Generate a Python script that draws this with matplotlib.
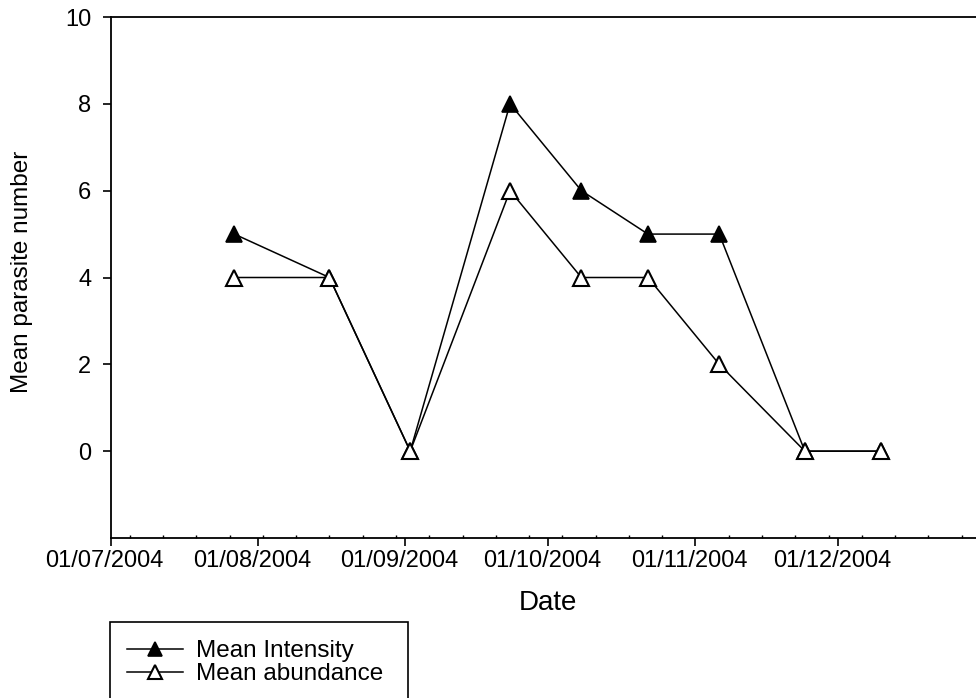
import matplotlib
matplotlib.use("Agg")
import matplotlib.pyplot as plt
import matplotlib.dates as mdates
import matplotlib.transforms as mtransforms
from matplotlib.patches import Rectangle
import numpy as np
import datetime as dt

plt.rcParams['font.family'] = ['Liberation Sans', 'DejaVu Sans']

# sampling dates and values
dates = ['2004-07-27', '2004-08-16', '2004-09-02', '2004-09-23', '2004-10-08',
         '2004-10-22', '2004-11-06', '2004-11-24', '2004-12-10']
mean_intensity = [5, 4, 0, 8, 6, 5, 5, 0, 0]
mean_abundance = [4, 4, 0, 6, 4, 4, 2, 0, 0]
series_labels = ['Mean Intensity', 'Mean abundance']
y_ticks = [0, 2, 4, 6, 8, 10]

x = [dt.datetime.strptime(d, '%Y-%m-%d') for d in dates]

fig = plt.figure(figsize=(9.76, 6.98), dpi=100)
ax = fig.add_axes([110.7 / 976, 160 / 698, 1 - 110.7 / 976, 521 / 698])

l1, = ax.plot(x, mean_intensity, color='black', lw=1.1, marker='^', ms=11,
              mfc='black', mec='black', mew=1.2, label=series_labels[0], zorder=3)
l2, = ax.plot(x, mean_abundance, color='black', lw=1.1, marker='^', ms=11,
              mfc='white', mec='black', mew=1.5, label=series_labels[1], zorder=4)

ax.set_xlim(dt.datetime(2004, 7, 1), dt.datetime(2004, 12, 30))
ax.set_ylim(-2, 10)
ax.set_yticks(y_ticks)

ax.xaxis.set_major_locator(mdates.MonthLocator())
ax.xaxis.set_major_formatter(mdates.DateFormatter('%d/%m/%Y'))
ax.xaxis.set_minor_locator(mdates.WeekdayLocator(byweekday=mdates.MO))

ax.spines['right'].set_visible(False)
for s in ['left', 'bottom', 'top']:
    ax.spines[s].set_linewidth(1.3)

ax.tick_params(axis='x', which='major', direction='out', length=5.5, width=1.2,
               labelsize=17, pad=3, top=False)
ax.tick_params(axis='x', which='minor', direction='in', length=2, width=1.0, top=False)
ax.tick_params(axis='y', which='major', direction='out', length=6, width=1.2,
               labelsize=17, pad=8, right=False)

# labels sit a little left of their ticks in the original
offset = mtransforms.ScaledTranslation(-6 / 100, 0, fig.dpi_scale_trans)
for lab in ax.get_xticklabels():
    lab.set_transform(lab.get_transform() + offset)

ax.set_xlabel('Date', fontsize=20)
ax.xaxis.set_label_coords(0.5054, -0.1)
ax.set_ylabel('Mean parasite number', fontsize=17.5)
ax.yaxis.set_label_coords(-0.0898, 0.51)

# legend box runs off the bottom of the figure
fig.patches.append(Rectangle((110 / 976, -0.05), 298 / 976, (698 - 622) / 698 + 0.05,
                             transform=fig.transFigure, fill=False, lw=1.2,
                             edgecolor='black'))
fig.legend(handles=[l1, l2], loc='upper left', bbox_to_anchor=(127 / 976, 1 - 640 / 698),
           frameon=False, fontsize=17.5, handlelength=2.3, handletextpad=0.55,
           labelspacing=0.05, borderpad=0, borderaxespad=0, markerscale=0.9)

fig.savefig('out.png', dpi=100)
